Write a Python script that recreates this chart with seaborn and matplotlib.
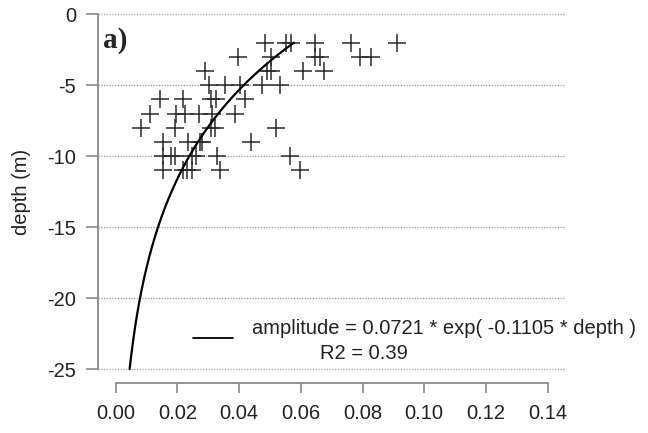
import numpy as np
import pandas as pd
import matplotlib
matplotlib.use("Agg")
import matplotlib.pyplot as plt
import seaborn as sns

# ---- data ----
depth_m = [-2]*6 + [-3]*6 + [-4]*5 + [-5]*5 + [-6]*5 + [-7]*6 + [-8]*5 + [-9]*5 + [-10]*7 + [-11]*6
amplitude = [
    0.0483, 0.0552, 0.0567, 0.0645, 0.0764, 0.0913,          # -2
    0.0397, 0.0505, 0.0645, 0.0662, 0.0792, 0.0829,          # -3
    0.0291, 0.0490, 0.0505, 0.0608, 0.0675,                  # -4
    0.0303, 0.0354, 0.0403, 0.0473, 0.0532,                  # -5
    0.0145, 0.0220, 0.0310, 0.0325, 0.0420,                  # -6
    0.0111, 0.0197, 0.0224, 0.0270, 0.0311, 0.0386,          # -7
    0.0081, 0.0192, 0.0310, 0.0322, 0.0521,                  # -8
    0.0152, 0.0235, 0.0273, 0.0280, 0.0438,                  # -9
    0.0153, 0.0181, 0.0192, 0.0246, 0.0262, 0.0327, 0.0565,  # -10
    0.0154, 0.0219, 0.0232, 0.0246, 0.0338, 0.0597,          # -11
]
# fitted model shown in the legend
fit_a = 0.0721
fit_b = -0.1105
fit_depth_range = (2, 25)
fit_label = "amplitude = 0.0721 * exp( -0.1105 * depth )"
r2_label = "R2 = 0.39"
panel_label = "a)"
y_label = "depth (m)"

x_ticks = [0.00, 0.02, 0.04, 0.06, 0.08, 0.10, 0.12, 0.14]
x_ticklabels = ["0.00", "0.02", "0.04", "0.06", "0.08", "0.10", "0.12", "0.14"]
y_ticks = [0, -5, -10, -15, -20, -25]
y_ticklabels = ["0", "-5", "-10", "-15", "-20", "-25"]

# ---- style ----
sns.set_style("white")
plt.rcParams["font.family"] = ["Liberation Sans", "DejaVu Sans"]
plt.rcParams["font.size"] = 14.5

W, H = 648, 433
fig = plt.figure(figsize=(W / 100, H / 100), dpi=100)
ax_left, ax_right, ax_bottom = 98.3, 565.0, 49.7
ax = fig.add_axes([ax_left / W, ax_bottom / H, (ax_right - ax_left) / W, (H - ax_bottom) / H])

pts = pd.DataFrame({"amplitude": amplitude, "depth": depth_m})
sns.scatterplot(data=pts, x="amplitude", y="depth", marker="+", s=150,
                color="#2a2a2a", linewidth=1.1, ax=ax, zorder=3)

d = np.linspace(fit_depth_range[0], fit_depth_range[1], 300)
curve = pd.DataFrame({"amplitude": fit_a * np.exp(fit_b * d), "depth": -d})
sns.lineplot(data=curve, x="amplitude", y="depth", sort=False, estimator=None,
             color="black", linewidth=1.6, ax=ax, zorder=4, label=fit_label)

ax.set_xlim(-0.0056, 0.1456)
ax.set_ylim(-26, 1)
ax.set_xticks(x_ticks)
ax.set_xticklabels(x_ticklabels)
ax.set_yticks(y_ticks)
ax.set_yticklabels(y_ticklabels)
ax.set_xlabel("")
ax.set_ylabel(y_label, fontsize=14.5, color="#222222")
ax.yaxis.set_label_coords(-0.144, 0.5)

grey = "#8a8a8a"
for s in ["top", "right"]:
    ax.spines[s].set_visible(False)
ax.spines["left"].set_bounds(-25, 0)
ax.spines["bottom"].set_bounds(0, 0.14)
for s in ["left", "bottom"]:
    ax.spines[s].set_color(grey)
    ax.spines[s].set_linewidth(1.3)

ax.tick_params(axis="y", direction="out", length=8.3, width=1.2, color=grey,
               labelsize=14.5, labelcolor="#222222", pad=7.5, left=True)
ax.tick_params(axis="x", direction="out", length=7.2, width=1.2, color=grey,
               labelsize=14.5, labelcolor="#222222", pad=8, bottom=True)

ax.yaxis.grid(True, linestyle=(0, (1, 1.2)), color="#9a9a9a", linewidth=0.9)
ax.xaxis.grid(False)
ax.set_axisbelow(True)

leg = ax.legend(loc="center left", bbox_to_anchor=(192.7 / W, 1 - 328 / H),
                bbox_transform=fig.transFigure, frameon=False, borderpad=0,
                borderaxespad=0, handlelength=2.0, handletextpad=0.95,
                fontsize=14.5)
for t in leg.get_texts():
    t.set_color("#222222")
for h in leg.legend_handles:
    h.set_linewidth(1.3)
    # the sample line sits between the two text lines, as in the reference
    h.set_ydata(np.asarray(h.get_ydata(), dtype=float) - 8.0)

fig.text(364 / W, 1 - 359 / H, r2_label, ha="center", va="baseline",
         fontsize=14.5, color="#222222")

fig.text(102.7 / W, 1 - 47.3 / H, panel_label, ha="left", va="baseline",
         fontsize=21, fontweight="bold", family=["Liberation Serif", "DejaVu Serif"])

fig.savefig("out.png", dpi=100)
